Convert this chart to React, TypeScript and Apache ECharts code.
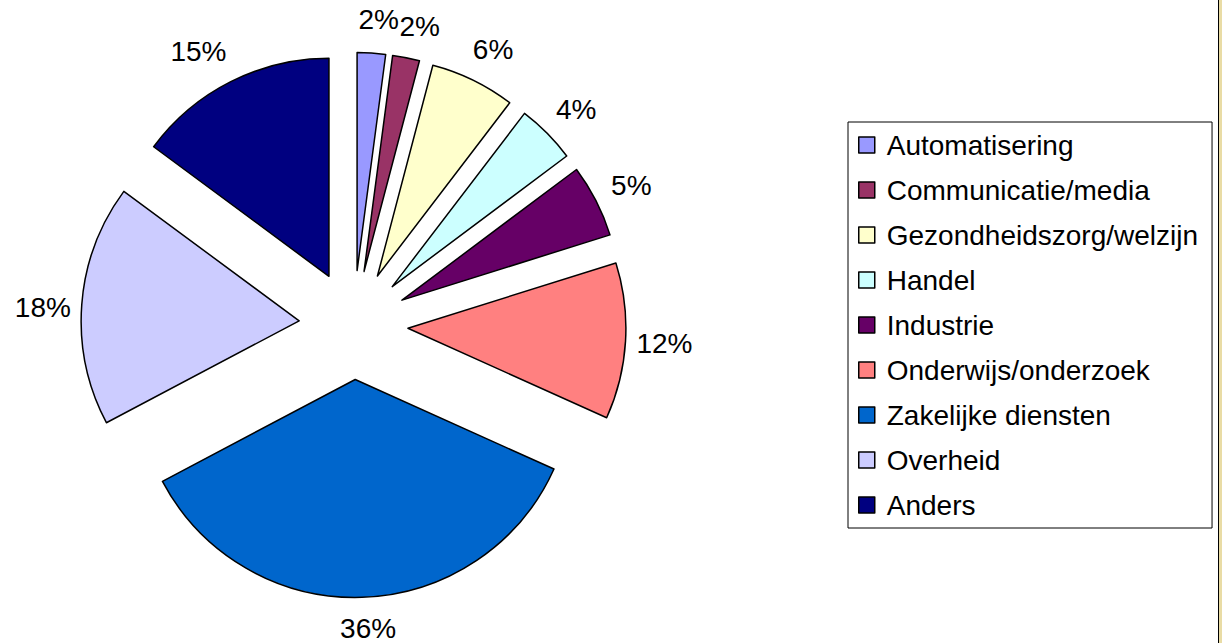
import React, { useEffect, useRef } from "react";
import * as echarts from "echarts";

const categories = [
  "Automatisering",
  "Communicatie/media",
  "Gezondheidszorg/welzijn",
  "Handel",
  "Industrie",
  "Onderwijs/onderzoek",
  "Zakelijke diensten",
  "Overheid",
  "Anders",
];
const values = [2.1, 2.0, 6.3, 4.4, 5.4, 11.6, 35.6, 17.9, 14.9];
const colors = [
  "#9999FF",
  "#993366",
  "#FFFFCC",
  "#CCFFFF",
  "#660066",
  "#FF8080",
  "#0066CC",
  "#CCCCFF",
  "#000080",
];

const FONT = "'Liberation Sans', Arial, sans-serif";

export default function App() {
  const ref = useRef<HTMLDivElement>(null);
  useEffect(() => {
    document.body.style.margin = "0";
    const chart = echarts.init(ref.current!, null, { renderer: "svg" });
    chart.setOption({
      animation: false,
      backgroundColor: "#ffffff",
      legend: {
        orient: "vertical",
        left: 848,
        top: 122,
        padding: [9, 14, 9, 10],
        borderColor: "#000",
        borderWidth: 1,
        itemWidth: 16,
        itemHeight: 16,
        itemGap: 17,
        icon: "rect",
        selectedMode: false,
        itemStyle: { borderColor: "#000", borderWidth: 1.5 },
        textStyle: {
          fontFamily: FONT,
          fontSize: 28,
          lineHeight: 27,
          color: "#000",
          padding: [0, 0, 0, 7],
        },
        data: categories,
      },
      graphic: [
        { type: "rect", left: 1218, top: 0, shape: { width: 1, height: 643 }, style: { fill: "#000" } },
        { type: "rect", left: 1219, top: 0, shape: { width: 3, height: 643 }, style: { fill: "#E9DCA5" } },
      ],
      series: [
        {
          type: "pie",
          center: [353.5, 325],
          radius: 218,
          startAngle: 90,
          clockwise: true,
          selectedMode: "multiple",
          selectedOffset: 54.5,
          avoidLabelOverlap: false,
          emphasis: { disabled: true },
          itemStyle: { borderColor: "#000", borderWidth: 1.5 },
          select: { itemStyle: { borderColor: "#000", borderWidth: 1.5 } },
          label: {
            show: true,
            position: "outside",
            fontFamily: FONT,
            fontSize: 28,
            color: "#000",
            formatter: (p: any) => Math.round(p.percent) + "%",
          },
          labelLine: { show: false, length: 34, length2: 0 },
          labelLayout: (p: any) => ({
            align: "center",
            verticalAlign: "middle",
            dx: p.dataIndex === 8 ? -12 : p.dataIndex === 1 ? 2 : 0,
            dy: p.dataIndex === 6 ? -3 : p.dataIndex === 7 ? 6 : p.dataIndex === 1 ? 2 : 0,
          }),
          data: categories.map((name, i) => ({
            name,
            value: values[i],
            selected: true,
            itemStyle: { color: colors[i] },
          })),
        },
      ],
    });
    return () => chart.dispose();
  }, []);
  return <div ref={ref} style={{ width: 1222, height: 643 }} />;
}
